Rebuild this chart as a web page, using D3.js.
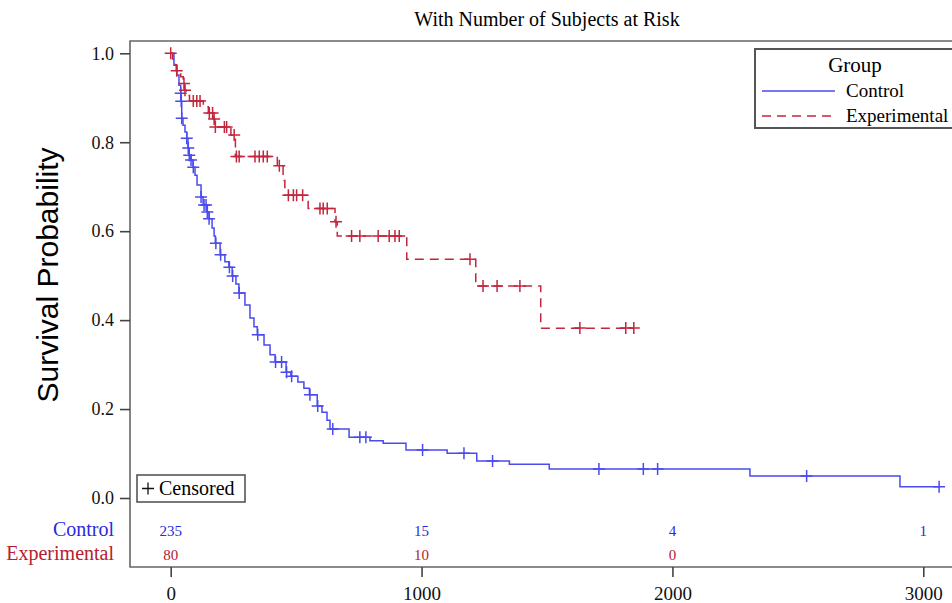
<!DOCTYPE html>
<html>
<head>
<meta charset="utf-8">
<script src="https://cdn.jsdelivr.net/npm/d3@7"></script>
<style>
  body { margin: 0; background: #fff; }
  svg text { font-family: "Liberation Serif", "DejaVu Serif", serif; }
</style>
</head>
<body>
<svg id="chart" width="952" height="603"></svg>
<script>
// step points of the Kaplan-Meier curves (time, survival)
let ctrlTimes = [0, 13, 25, 33, 40, 41, 44, 49, 57, 64, 69, 73, 81, 89, 97, 105, 121, 129, 145, 153, 165, 173, 178, 197, 216, 232, 245, 260, 272, 296, 316, 332, 345, 372, 396, 416, 460, 479, 507, 531, 553, 584, 603, 623, 635, 711, 794, 847, 938, 1102, 1220, 1350, 1509, 2309, 2907]
let ctrlSurv = [1.0, 0.973, 0.951, 0.928, 0.910, 0.892, 0.854, 0.838, 0.823, 0.809, 0.787, 0.771, 0.760, 0.744, 0.726, 0.704, 0.677, 0.659, 0.643, 0.628, 0.607, 0.589, 0.573, 0.547, 0.531, 0.519, 0.499, 0.481, 0.461, 0.434, 0.405, 0.385, 0.367, 0.344, 0.322, 0.306, 0.283, 0.274, 0.261, 0.247, 0.232, 0.207, 0.193, 0.175, 0.155, 0.1365, 0.129, 0.123, 0.108, 0.1005, 0.083, 0.076, 0.065, 0.0495, 0.0254]
let ctrlCensor = [40, 42, 44, 64, 70, 74, 81, 90, 121, 133, 141, 146, 153, 180, 199, 234, 247, 273, 347, 418, 442, 462, 482, 555, 586, 646, 754, 778, 1004, 1169, 1283, 1707, 1884, 1941, 2535, 3063]

let expTimes = [0, 8, 18, 22, 40, 50, 55, 62, 75, 130, 150, 170, 176, 240, 258, 425, 448, 455, 548, 655, 664, 941, 1216, 1475]
let expSurv = [1.0, 0.987, 0.974, 0.961, 0.947, 0.932, 0.917, 0.905, 0.893, 0.880, 0.866, 0.852, 0.834, 0.816, 0.768, 0.747, 0.714, 0.681, 0.651, 0.621, 0.589, 0.537, 0.477, 0.382]
let expCensor = [0, 24, 53, 57, 90, 104, 117, 154, 167, 173, 178, 214, 223, 253, 262, 273, 336, 353, 369, 385, 433, 469, 489, 502, 526, 595, 608, 624, 659, 721, 754, 827, 871, 894, 911, 1193, 1245, 1301, 1392, 1631, 1814, 1846]

let xTicks = [0, 1000, 2000, 3000]
let yTicks = [0, 0.2, 0.4, 0.6, 0.8, 1.0]
let riskTimes = [0, 1000, 2000, 3000]
let ctrlRisk = [235, 15, 4, 1]
let expRisk = [80, 10, 0]

let blue = "#4a4aee"
let red = "#c3263d"
let riskBlue = "#2a2ae0"
let riskRed = "#b5202f"

let svg = d3.select("#chart")
let x = d3.scaleLinear().domain([0, 3000]).range([170.7, 923.3])
let y = d3.scaleLinear().domain([0, 1]).range([498, 53.3])

// frame
svg.append("path")
  .attr("d", "M960,41H130V567H960")
  .attr("fill", "none")
  .attr("stroke", "#666")
  .attr("stroke-width", 1.6)

// title
svg.append("text")
  .attr("x", 547)
  .attr("y", 26)
  .attr("text-anchor", "middle")
  .style("font-size", "20px")
  .text("With Number of Subjects at Risk")

// y axis
let yAxis = svg.append("g")
  .attr("transform", "translate(130,0)")
  .call(d3.axisLeft(y).tickValues(yTicks).tickFormat(d3.format(".1f")).tickSize(10).tickSizeOuter(0))
yAxis.select(".domain").remove()
yAxis.selectAll("line").attr("stroke", "#444").attr("stroke-width", 1.6)
yAxis.selectAll("text")
  .attr("x", -16)
  .style("font-family", "Liberation Serif")
  .style("font-size", "18px")
  .attr("fill", "#111")

svg.append("text")
  .attr("transform", "translate(58,275) rotate(-90)")
  .attr("text-anchor", "middle")
  .style("font-family", "Liberation Sans")
  .style("font-size", "30px")
  .text("Survival Probability")

// x axis
let xAxis = svg.append("g")
  .attr("transform", "translate(0,567)")
  .call(d3.axisBottom(x).tickValues(xTicks).tickFormat(d3.format("d")).tickSize(10).tickSizeOuter(0))
xAxis.select(".domain").remove()
xAxis.selectAll("line").attr("stroke", "#444").attr("stroke-width", 1.6)
xAxis.selectAll("text")
  .attr("y", 20)
  .style("font-family", "Liberation Serif")
  .style("font-size", "19px")
  .attr("fill", "#111")

// curves
function stepsOf(times, surv, end) {
  let pts = times.map((t, i) => [t, surv[i]])
  pts.push([end, surv[surv.length - 1]])
  return pts
}
function survAt(times, surv, t) {
  let i = d3.bisectRight(times, t) - 1
  return surv[Math.max(i, 0)]
}
let line = d3.line()
  .x(d => x(d[0]))
  .y(d => y(d[1]))
  .curve(d3.curveStepAfter)

let groups = [
  {times: ctrlTimes, surv: ctrlSurv, cens: ctrlCensor, color: blue, dash: null},
  {times: expTimes, surv: expSurv, cens: expCensor, color: red, dash: "9,6"}
]

groups.forEach(g => {
  let end = d3.max(g.cens)
  svg.append("path")
    .datum(stepsOf(g.times, g.surv, end))
    .attr("d", line)
    .attr("fill", "none")
    .attr("stroke", g.color)
    .attr("stroke-width", 1.5)
    .attr("stroke-dasharray", g.dash)

  svg.append("g")
    .selectAll("path")
    .data(g.cens)
    .join("path")
    .attr("d", t => {
      let cx = x(t), cy = y(survAt(g.times, g.surv, t))
      return "M" + (cx - 6) + "," + cy + "H" + (cx + 6) + "M" + cx + "," + (cy - 6) + "V" + (cy + 6)
    })
    .attr("stroke", g.color)
    .attr("stroke-width", 1.5)
})

// censored box
svg.append("rect")
  .attr("x", 137)
  .attr("y", 475)
  .attr("width", 108)
  .attr("height", 27)
  .attr("fill", "#fff")
  .attr("stroke", "#555")
  .attr("stroke-width", 1.6)
svg.append("path")
  .attr("d", "M142,488.5H154M148,482.5V494.5")
  .attr("stroke", "#111")
  .attr("stroke-width", 1.3)
svg.append("text")
  .attr("x", 159)
  .attr("y", 495)
  .style("font-size", "20px")
  .text("Censored")

// legend
svg.append("rect")
  .attr("x", 755)
  .attr("y", 49)
  .attr("width", 220)
  .attr("height", 79)
  .attr("fill", "#fff")
  .attr("stroke", "#555")
  .attr("stroke-width", 2)
svg.append("text")
  .attr("x", 855)
  .attr("y", 72)
  .attr("text-anchor", "middle")
  .style("font-size", "21px")
  .text("Group")
let legendNames = ["Control", "Experimental"]
legendNames.forEach((name, i) => {
  let ly = 91 + i * 25
  svg.append("line")
    .attr("x1", 762).attr("x2", 835)
    .attr("y1", ly).attr("y2", ly)
    .attr("stroke", groups[i].color)
    .attr("stroke-width", 1.5)
    .attr("stroke-dasharray", groups[i].dash)
  svg.append("text")
    .attr("x", 846)
    .attr("y", ly + 6)
    .style("font-size", "19px")
    .text(name)
})

// number at risk
let riskRows = [
  {name: "Control", vals: ctrlRisk, color: riskBlue, yy: 536},
  {name: "Experimental", vals: expRisk, color: riskRed, yy: 560}
]
riskRows.forEach(r => {
  svg.append("text")
    .attr("x", 114)
    .attr("y", r.yy)
    .attr("text-anchor", "end")
    .attr("fill", r.color)
    .style("font-size", "20px")
    .text(r.name)
  svg.append("g")
    .selectAll("text")
    .data(r.vals)
    .join("text")
    .attr("x", (d, i) => x(riskTimes[i]))
    .attr("y", r.yy)
    .attr("text-anchor", "middle")
    .attr("fill", r.color)
    .style("font-size", "15px")
    .text(d => d)
})
</script>
</body>
</html>
